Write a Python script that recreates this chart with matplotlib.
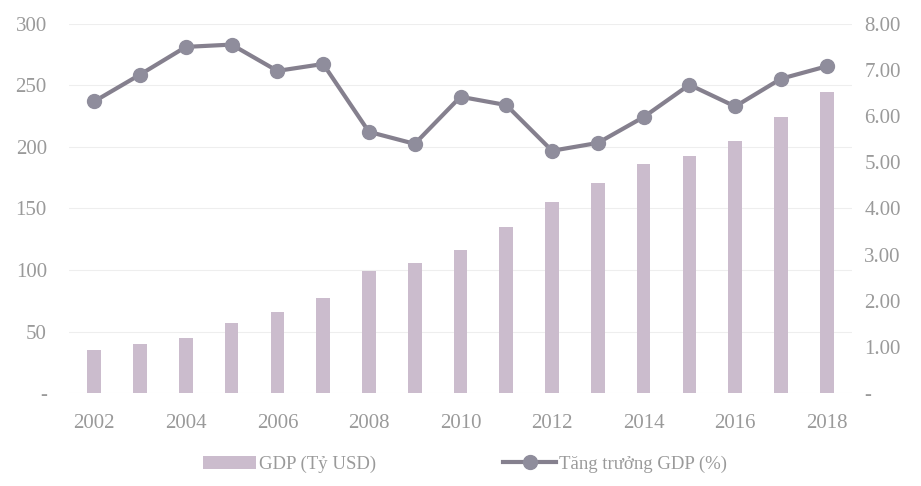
import numpy as np
import matplotlib.pyplot as plt
from matplotlib.ticker import FuncFormatter

years = list(range(2002, 2019))
gdp = [35, 40, 45, 57, 66, 77, 99, 106, 116, 135, 155, 171, 186, 193, 205, 224, 245]
growth = [6.32, 6.90, 7.50, 7.55, 6.98, 7.13, 5.66, 5.40, 6.42, 6.24, 5.25, 5.42,
          5.98, 6.68, 6.21, 6.81, 7.08]
year_ticks = list(range(2002, 2019, 2))

plt.rcParams['font.family'] = ['Liberation Serif', 'DejaVu Serif']
text_color = '#9a9a9a'

fig, ax = plt.subplots(figsize=(9.21, 4.86), dpi=100)
fig.subplots_adjust(left=0.075, right=0.925, top=0.951, bottom=0.191)

ax.bar(years, gdp, width=0.3, color='#cbbccd', label='GDP (Tỷ USD)', zorder=2)
ax.set_ylim(0, 300)
ax.set_yticks(range(0, 301, 50))
ax.yaxis.set_major_formatter(FuncFormatter(lambda v, p: '-' if v == 0 else f'{int(v)}'))
ax.grid(axis='y', color='#eeeeee', linewidth=0.8, zorder=0)
ax.set_xlim(2001.45, 2018.55)
ax.set_xticks(year_ticks)

ax2 = ax.twinx()
ax2.plot(years, growth, color='#85808e', linewidth=3, marker='o', markersize=10,
         markerfacecolor='#8f8d9c', markeredgecolor='#8f8d9c', label='Tăng trưởng GDP (%)', zorder=3)
ax2.set_ylim(0, 8)
ax2.set_yticks(range(0, 9))
ax2.yaxis.set_major_formatter(FuncFormatter(lambda v, p: '-' if v == 0 else f'{v:.2f}'))

for a in (ax, ax2):
    for s in a.spines.values():
        s.set_visible(False)
    a.tick_params(length=0, colors=text_color, labelsize=15)
ax.tick_params(axis='y', pad=16)
ax2.tick_params(axis='y', pad=9)
ax.tick_params(axis='x', pad=15)

h1, l1 = ax.get_legend_handles_labels()
h2, l2 = ax2.get_legend_handles_labels()
leg = fig.legend(h1 + h2, l1 + l2, loc='lower center', ncol=2, frameon=False,
                 bbox_to_anchor=(0.505, -0.008), fontsize=13.5, handlelength=2.8,
                 handletextpad=0.15, columnspacing=6.8)
for t in leg.get_texts():
    t.set_color(text_color)

fig.savefig('out.png')
